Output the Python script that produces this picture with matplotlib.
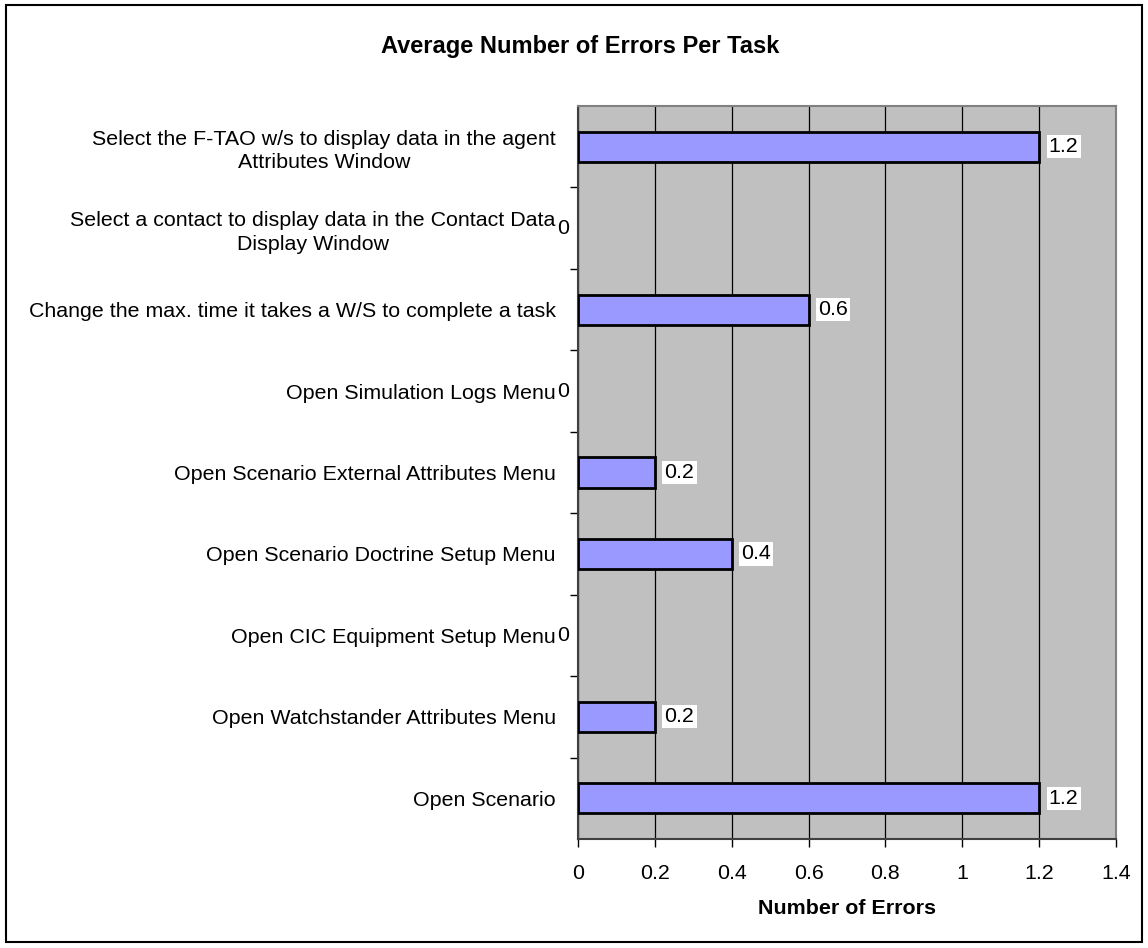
import matplotlib
matplotlib.use("Agg")
import matplotlib.pyplot as plt
from matplotlib.patches import Rectangle

plt.rcParams['font.family'] = ['Liberation Sans', 'DejaVu Sans']

categories = [
    "Open Scenario",
    "Open Watchstander Attributes Menu",
    "Open CIC Equipment Setup Menu",
    "Open Scenario Doctrine Setup Menu",
    "Open Scenario External Attributes Menu",
    "Open Simulation Logs Menu",
    "Change the max. time it takes a W/S to complete a task",
    "Select a contact to display data in the Contact Data\nDisplay Window",
    "Select the F-TAO w/s to display data in the agent\nAttributes Window",
]
values = [1.2, 0.2, 0, 0.4, 0.2, 0, 0.6, 0, 1.2]
value_labels = ["1.2", "0.2", "0", "0.4", "0.2", "0", "0.6", "0", "1.2"]
xticks = [0, 0.2, 0.4, 0.6, 0.8, 1.0, 1.2, 1.4]
xtick_labels = ["0", "0.2", "0.4", "0.6", "0.8", "1", "1.2", "1.4"]

FS = 15.4
W, H = 1148, 948
fig = plt.figure(figsize=(W / 100, H / 100), dpi=100)
fig.patch.set_facecolor('white')

# figure border
fig.patches.append(Rectangle((6 / W, 1 - 942 / H), (1142 - 6) / W, (942 - 5) / H,
                             transform=fig.transFigure, fill=False,
                             edgecolor='black', linewidth=1.5))

ax = fig.add_axes([578 / W, 1 - 839 / H, (1116 - 578) / W, (839 - 106) / H])
ax.set_facecolor('#C0C0C0')

n = len(categories)
ypos = list(range(n))
bars = ax.barh(ypos, values, height=0.37, color='#9999FF', edgecolor='black',
               linewidth=2, zorder=3)
for b, v in zip(bars, values):
    if v == 0:
        b.set_linewidth(0)

ax.set_xlim(0, 1.4)
ax.set_ylim(-0.5, n - 0.5)

ax.set_xticks(xticks)
ax.set_xticklabels(xtick_labels, fontsize=FS)
ax.tick_params(axis='x', direction='out', length=6, width=1, color='black', pad=12)
ax.xaxis.grid(True, color='black', linewidth=0.9, zorder=1)
ax.set_axisbelow(True)

# category labels
ax.set_yticks(ypos)
ax.set_yticklabels(categories, fontsize=FS, linespacing=1.3, multialignment='center')
ax.tick_params(axis='y', which='major', length=0, pad=16)
ax.set_yticks([i - 0.5 for i in range(1, n)], minor=True)
ax.tick_params(axis='y', which='minor', direction='out', length=6, width=1, color='black')

for sname in ['top', 'right']:
    ax.spines[sname].set_color('#808080')
    ax.spines[sname].set_linewidth(1.5)
for sname in ['left', 'bottom']:
    ax.spines[sname].set_color('#404040')
    ax.spines[sname].set_linewidth(1.5)

# data labels
for y, v, lab in zip(ypos, values, value_labels):
    if v == 0:
        ax.annotate(lab, (0, y), xytext=(-11, 0), textcoords='offset points',
                    ha='center', va='center', fontsize=FS, annotation_clip=False)
    else:
        ax.annotate(lab, (v, y), xytext=(7, 0), textcoords='offset points',
                    ha='left', va='center', fontsize=FS, zorder=5,
                    bbox=dict(boxstyle='square,pad=0.1', facecolor='white', edgecolor='none'))

fig.text(580 / W, 1 - 46 / H, "Average Number of Errors Per Task", ha='center', va='center',
         fontsize=17, fontweight='bold')
fig.text(847 / W, 1 - 909 / H, "Number of Errors", ha='center', va='center',
         fontsize=FS, fontweight='bold')

fig.savefig("out.png", dpi=100, facecolor='white')
